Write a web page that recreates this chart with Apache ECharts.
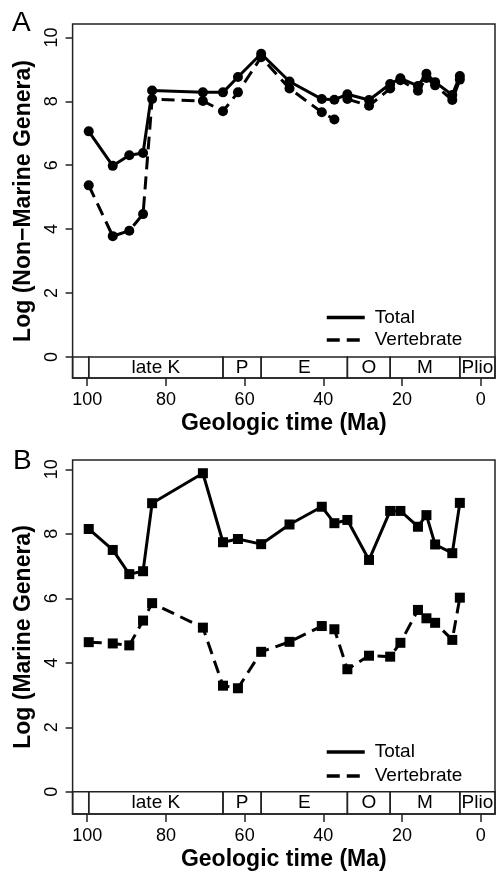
<!DOCTYPE html>
<html><head><meta charset="utf-8">
<script src="https://cdn.jsdelivr.net/npm/echarts@6/dist/echarts.min.js"></script>
<style>html,body{margin:0;padding:0;background:#fff}#c{width:496px;height:872px}</style>
</head><body><div id="c"></div>
<script>
// ---- data ----
const ages = [99.6, 93.5, 89.3, 85.8, 83.5, 70.6, 65.5, 61.7, 55.8, 48.6, 40.4, 37.2, 33.9, 28.4, 23.03, 20.43, 15.97, 13.82, 11.61, 7.25, 5.33];
const nonMarineTotal = [7.06, 5.98, 6.31, 6.38, 8.34, 8.28, 8.28, 8.76, 9.49, 8.62, 8.07, 8.05, 8.22, 8.04, 8.54, 8.72, 8.48, 8.86, 8.60, 8.20, 8.79];
const nonMarineVert  = [5.37, 3.78, 3.95, 4.47, 8.07, 8.01, 7.69, 8.28, 9.38, 8.40, 7.66, 7.43, 8.07, 7.86, 8.40, 8.66, 8.33, 8.73, 8.50, 8.04, 8.68];
const nonMarineVertBreakAfter = 11; // line broken between 37.2 and 33.9 Ma
const marineTotal = [8.15, 7.50, 6.75, 6.84, 8.95, 9.88, 7.74, 7.84, 7.68, 8.29, 8.84, 8.33, 8.43, 7.19, 8.71, 8.71, 8.22, 8.58, 7.67, 7.40, 8.96];
const marineVert  = [4.64, 4.60, 4.54, 5.31, 5.85, 5.09, 3.29, 3.21, 4.34, 4.65, 5.14, 5.04, 3.80, 4.22, 4.19, 4.62, 5.64, 5.38, 5.24, 4.71, 6.02];
const periodNames  = ['', 'late K', 'P', 'E', 'O', 'M', 'Plio'];
const periodBounds = [103.7, 99.6, 65.5, 55.8, 33.9, 23.03, 5.33, -3.6];
const xTicks = [0, 20, 40, 60, 80, 100];
const yTicks = [0, 2, 4, 6, 8, 10];
const X_MIN = -3.6, X_MAX = 103.7;
const YA_MIN = -0.66, YA_MAX = 10.42;
const YB_MIN = -0.69, YB_MAX = 10.29;

// ---- chart ----
const FONT = "'Liberation Sans', Arial, Helvetica, sans-serif";
const chart = echarts.init(document.getElementById('c'), null, {renderer: 'canvas'});
function pairs(xs, ys) { return xs.map((x, i) => [x, ys[i]]); }
function periodAreas(yMin) {
  const out = [];
  for (let i = 0; i < periodNames.length; i++) {
    out.push([{name: periodNames[i], xAxis: periodBounds[i], yAxis: yMin}, {xAxis: periodBounds[i + 1], yAxis: 0}]);
  }
  return out;
}
function markAreaDef(yMin) {
  return {
    silent: true,
    itemStyle: {color: 'rgba(0,0,0,0)', borderColor: '#222', borderWidth: 1.5},
    label: {show: true, position: 'inside', color: '#000', fontSize: 19, fontFamily: FONT},
    data: periodAreas(yMin)
  };
}
function xAxisDef(gi) {
  return {
    type: 'value', gridIndex: gi, min: X_MIN, max: X_MAX, inverse: true, position: 'bottom',
    axisLine: {show: false, onZero: false}, splitLine: {show: false},
    axisTick: {show: true, length: 8, customValues: xTicks, lineStyle: {color: '#222', width: 1.5}},
    axisLabel: {customValues: xTicks, margin: 13, fontSize: 18, color: '#000', fontFamily: FONT},
    name: 'Geologic time (Ma)', nameLocation: 'middle', nameGap: 34,
    nameTextStyle: {fontSize: 23, fontWeight: 'bold', color: '#000', fontFamily: FONT}
  };
}
function yAxisDef(gi, mn, mx, name) {
  return {
    type: 'value', gridIndex: gi, min: mn, max: mx, position: 'left',
    axisLine: {show: false, onZero: false}, splitLine: {show: false},
    axisTick: {show: true, length: 7, customValues: yTicks, lineStyle: {color: '#222', width: 1.5}},
    axisLabel: {customValues: yTicks, rotate: 90, margin: 12, fontSize: 18, color: '#000', fontFamily: FONT},
    name: name, nameLocation: 'middle', nameGap: 36,
    nameTextStyle: {fontSize: 23, fontWeight: 'bold', color: '#000', fontFamily: FONT}
  };
}
const solid = {color: '#000', width: 3, type: 'solid'};
const dashed = {color: '#000', width: 3, type: [13, 7]};
function lineSeries(name, gi, data, symbol, ls, extra) {
  return Object.assign({
    type: 'line', name: name, xAxisIndex: gi, yAxisIndex: gi, data: data,
    symbol: symbol, symbolSize: 10, showSymbol: true,
    itemStyle: {color: '#000'}, lineStyle: ls, animation: false, z: 3
  }, extra || {});
}
function legendDef(top, gap) {
  return {
    orient: 'vertical', left: 320, top: top, itemWidth: 38, itemHeight: 14, itemGap: gap,
    data: ['Total', 'Vertebrate'],
    itemStyle: {opacity: 0}, lineStyle: {width: 3.5},
    textStyle: {fontSize: 19, color: '#000', fontFamily: FONT, padding: [0, 0, 0, 5]}
  };
}
const option = {
  backgroundColor: '#fff',
  animation: false,
  grid: [
    {left: 72.6, top: 24, width: 422.4, height: 354, show: true, borderColor: '#222', borderWidth: 1.5, backgroundColor: '#fff'},
    {left: 72.6, top: 460, width: 422.4, height: 355, show: true, borderColor: '#222', borderWidth: 1.5, backgroundColor: '#fff'}
  ],
  xAxis: [xAxisDef(0), xAxisDef(1)],
  yAxis: [yAxisDef(0, YA_MIN, YA_MAX, 'Log (Non\u2212Marine Genera)'), yAxisDef(1, YB_MIN, YB_MAX, 'Log (Marine Genera)')],
  legend: [legendDef(303, 3.5), legendDef(737.5, 5)],
  graphic: [
    {type: 'text', left: 12, top: 9, style: {text: 'A', fontSize: 28, fontFamily: FONT, fill: '#000'}},
    {type: 'text', left: 13, top: 447, style: {text: 'B', fontSize: 28, fontFamily: FONT, fill: '#000'}}
  ],
  series: [
    lineSeries('Total', 0, pairs(ages, nonMarineTotal), 'circle', solid, {markArea: markAreaDef(YA_MIN)}),
    lineSeries('Vertebrate', 0, pairs(ages.slice(0, nonMarineVertBreakAfter + 1), nonMarineVert.slice(0, nonMarineVertBreakAfter + 1)), 'circle', dashed),
    lineSeries('Vertebrate', 0, pairs(ages.slice(nonMarineVertBreakAfter + 1), nonMarineVert.slice(nonMarineVertBreakAfter + 1)), 'circle', dashed),
    lineSeries('Total', 1, pairs(ages, marineTotal), 'rect', solid, {markArea: markAreaDef(YB_MIN)}),
    lineSeries('Vertebrate', 1, pairs(ages, marineVert), 'rect', dashed)
  ]
};
chart.setOption(option);
</script>
</body></html>
